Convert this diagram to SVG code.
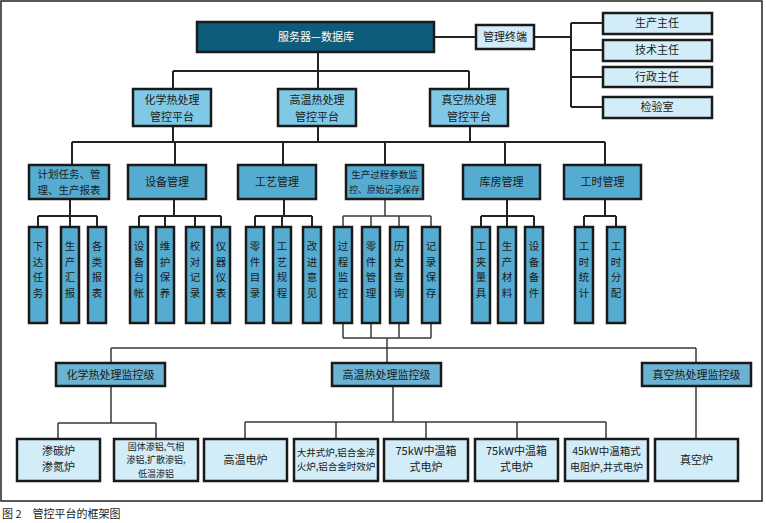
<svg xmlns="http://www.w3.org/2000/svg" width="766" height="523" viewBox="0 0 766 523">
<style>
text{font-family:"Noto Sans CJK SC","Liberation Sans",sans-serif;font-size:11px;fill:#1a1a1a;text-anchor:middle}
.b{stroke:#1a1a1a;stroke-width:2.5}
.srv{fill:#0d5c7a}
.lt{fill:#d2ecf8}
.l2{fill:#80c9e6}
.l3{fill:#56acd0}
.mon{fill:#6cb3d3}
.w{fill:#ffffff}
.v{font-size:10.5px}
.s{font-size:9px}
.c{fill:none;stroke:#222;stroke-width:2}
.g{fill:none;stroke:#3a3a3a;stroke-width:1.5}
</style>
<rect x="1" y="1" width="761" height="500" fill="#fff" stroke="#222" stroke-width="1.5"/>
<g id="connectors">
<path class="c" d="M434 37H476M534 37H571M571 23V107M571 23H603M571 50H603M571 77H603M571 107H603"/>
<path class="c" d="M318 52V71M173 71H469M173 71V89M318 71V89M469 71V89"/>
<path class="c" d="M173 126V142M318 126V142M470 126V142M72 142H605M72 142V165M175 142V165M283 142V165M385 142V165M505 142V165M605 142V165"/>
<path class="c" d="M70 199V216M38 216H97M38 216V227M70 216V227M97 216V227"/>
<path class="c" d="M174 199V216M139 216H221M139 216V227M165 216V227M195 216V227M221 216V227"/>
<path class="c" d="M284 199V216M255 216H312M255 216V227M282 216V227M312 216V227"/>
<path class="g" d="M385 199V216M343 216H431M343 216V227M371 216V227M399 216V227M431 216V227"/>
<path class="c" d="M507 199V216M481 216H534M481 216V227M507 216V227M534 216V227"/>
<path class="c" d="M605 199V216M584 216H616M584 216V227M616 216V227"/>
<path class="g" d="M343 323V338M371 323V338M399 323V338M431 323V338M343 338H431M387 338V363M111 348H696M111 348V363M696 348V363"/>
<path class="g" d="M111 386V423M58 423H156M58 423V439M156 423V439"/>
<path class="g" d="M393 386V422M245 422H606M245 422V439M336 422V439M426 422V439M517 422V439M606 422V439"/>
<path class="g" d="M696 386V439"/>
</g>
<g id="server"><rect class="b srv" x="197" y="22" width="237" height="30"/><text class="w" x="316" y="41">服务器—数据库</text></g>
<g id="terminal"><rect class="b lt" x="476" y="25" width="58" height="24"/><text x="505" y="41">管理终端</text></g>
<g id="r1"><rect class="b lt" x="603" y="13" width="109" height="21"/><text x="657" y="27">生产主任</text></g>
<g id="r2"><rect class="b lt" x="603" y="40" width="109" height="21"/><text x="657" y="54">技术主任</text></g>
<g id="r3"><rect class="b lt" x="603" y="67" width="109" height="20"/><text x="657" y="81">行政主任</text></g>
<g id="r4"><rect class="b lt" x="603" y="97" width="109" height="21"/><text x="657" y="111">检验室</text></g>
<g id="p1"><rect class="b l2" x="133" y="89" width="78" height="37"/><text x="172" y="104">化学热处理</text><text x="172" y="121">管控平台</text></g>
<g id="p2"><rect class="b l2" x="278" y="89" width="78" height="37"/><text x="317" y="104">高温热处理</text><text x="317" y="121">管控平台</text></g>
<g id="p3"><rect class="b l2" x="430" y="89" width="78" height="37"/><text x="469" y="104">真空热处理</text><text x="469" y="121">管控平台</text></g>
<g id="m1"><rect class="b l3" x="29" y="165" width="80" height="34"/><text style="font-size:10.5px" x="69" y="178">计划任务、管</text><text style="font-size:10.5px" x="69" y="194">理、生产报表</text></g>
<g id="m2"><rect class="b l3" x="128" y="165" width="78" height="34"/><text x="167" y="186">设备管理</text></g>
<g id="m3"><rect class="b l3" x="238" y="165" width="78" height="34"/><text x="277" y="186">工艺管理</text></g>
<g id="m4"><rect class="b l3" x="346" y="165" width="77" height="34"/><text style="font-size:9.5px" x="384.5" y="178">生产过程参数监</text><text style="font-size:8.8px" x="384.5" y="193">控、原始记录保存</text></g>
<g id="m5"><rect class="b l3" x="463" y="165" width="77" height="34"/><text x="501.5" y="186">库房管理</text></g>
<g id="m6"><rect class="b l3" x="564" y="165" width="77" height="34"/><text x="602.5" y="186">工时管理</text></g>
<g id="t1"><rect class="b l3" x="29" y="227" width="18" height="96"/><text class="v" x="38" y="250">下<tspan x="38" dy="15.5">达</tspan><tspan x="38" dy="15.5">任</tspan><tspan x="38" dy="15.5">务</tspan></text></g>
<g id="t2"><rect class="b l3" x="61" y="227" width="18" height="96"/><text class="v" x="70" y="250">生<tspan x="70" dy="15.5">产</tspan><tspan x="70" dy="15.5">汇</tspan><tspan x="70" dy="15.5">报</tspan></text></g>
<g id="t3"><rect class="b l3" x="88" y="227" width="18" height="96"/><text class="v" x="97" y="250">各<tspan x="97" dy="15.5">类</tspan><tspan x="97" dy="15.5">报</tspan><tspan x="97" dy="15.5">表</tspan></text></g>
<g id="t4"><rect class="b l3" x="130" y="227" width="18" height="96"/><text class="v" x="139" y="250">设<tspan x="139" dy="15.5">备</tspan><tspan x="139" dy="15.5">台</tspan><tspan x="139" dy="15.5">帐</tspan></text></g>
<g id="t5"><rect class="b l3" x="156" y="227" width="18" height="96"/><text class="v" x="165" y="250">维<tspan x="165" dy="15.5">护</tspan><tspan x="165" dy="15.5">保</tspan><tspan x="165" dy="15.5">养</tspan></text></g>
<g id="t6"><rect class="b l3" x="186" y="227" width="18" height="96"/><text class="v" x="195" y="250">校<tspan x="195" dy="15.5">对</tspan><tspan x="195" dy="15.5">记</tspan><tspan x="195" dy="15.5">录</tspan></text></g>
<g id="t7"><rect class="b l3" x="212" y="227" width="18" height="96"/><text class="v" x="221" y="250">仪<tspan x="221" dy="15.5">器</tspan><tspan x="221" dy="15.5">仪</tspan><tspan x="221" dy="15.5">表</tspan></text></g>
<g id="t8"><rect class="b l3" x="246" y="227" width="18" height="96"/><text class="v" x="255" y="250">零<tspan x="255" dy="15.5">件</tspan><tspan x="255" dy="15.5">目</tspan><tspan x="255" dy="15.5">录</tspan></text></g>
<g id="t9"><rect class="b l3" x="273" y="227" width="18" height="96"/><text class="v" x="282" y="250">工<tspan x="282" dy="15.5">艺</tspan><tspan x="282" dy="15.5">规</tspan><tspan x="282" dy="15.5">程</tspan></text></g>
<g id="t10"><rect class="b l3" x="303" y="227" width="18" height="96"/><text class="v" x="312" y="250">改<tspan x="312" dy="15.5">进</tspan><tspan x="312" dy="15.5">意</tspan><tspan x="312" dy="15.5">见</tspan></text></g>
<g id="t11"><rect class="b l3" x="334" y="227" width="18" height="96"/><text class="v" x="343" y="250">过<tspan x="343" dy="15.5">程</tspan><tspan x="343" dy="15.5">监</tspan><tspan x="343" dy="15.5">控</tspan></text></g>
<g id="t12"><rect class="b l3" x="362" y="227" width="18" height="96"/><text class="v" x="371" y="250">零<tspan x="371" dy="15.5">件</tspan><tspan x="371" dy="15.5">管</tspan><tspan x="371" dy="15.5">理</tspan></text></g>
<g id="t13"><rect class="b l3" x="390" y="227" width="18" height="96"/><text class="v" x="399" y="250">历<tspan x="399" dy="15.5">史</tspan><tspan x="399" dy="15.5">查</tspan><tspan x="399" dy="15.5">询</tspan></text></g>
<g id="t14"><rect class="b l3" x="422" y="227" width="18" height="96"/><text class="v" x="431" y="250">记<tspan x="431" dy="15.5">录</tspan><tspan x="431" dy="15.5">保</tspan><tspan x="431" dy="15.5">存</tspan></text></g>
<g id="t15"><rect class="b l3" x="472" y="227" width="18" height="96"/><text class="v" x="481" y="250">工<tspan x="481" dy="15.5">夹</tspan><tspan x="481" dy="15.5">量</tspan><tspan x="481" dy="15.5">具</tspan></text></g>
<g id="t16"><rect class="b l3" x="498" y="227" width="18" height="96"/><text class="v" x="507" y="250">生<tspan x="507" dy="15.5">产</tspan><tspan x="507" dy="15.5">材</tspan><tspan x="507" dy="15.5">料</tspan></text></g>
<g id="t17"><rect class="b l3" x="525" y="227" width="18" height="96"/><text class="v" x="534" y="250">设<tspan x="534" dy="15.5">备</tspan><tspan x="534" dy="15.5">备</tspan><tspan x="534" dy="15.5">件</tspan></text></g>
<g id="t18"><rect class="b l3" x="575" y="227" width="18" height="96"/><text class="v" x="584" y="250">工<tspan x="584" dy="15.5">时</tspan><tspan x="584" dy="15.5">统</tspan><tspan x="584" dy="15.5">计</tspan></text></g>
<g id="t19"><rect class="b l3" x="607" y="227" width="18" height="96"/><text class="v" x="616" y="250">工<tspan x="616" dy="15.5">时</tspan><tspan x="616" dy="15.5">分</tspan><tspan x="616" dy="15.5">配</tspan></text></g>
<g id="s1"><rect class="b mon" x="56" y="363" width="109" height="23"/><text x="110.5" y="378.5">化学热处理监控级</text></g>
<g id="s2"><rect class="b mon" x="332" y="363" width="109" height="23"/><text x="386.5" y="378.5">高温热处理监控级</text></g>
<g id="s3"><rect class="b mon" x="642" y="363" width="109" height="23"/><text x="696.5" y="378.5">真空热处理监控级</text></g>
<g id="f1"><rect class="b lt" x="17" y="439" width="83" height="42"/><text x="58.5" y="455">渗碳炉</text><text x="58.5" y="471">渗氮炉</text></g>
<g id="f2"><rect class="b lt" x="114" y="439" width="84" height="42"/><text class="s" x="156" y="450">固体渗铝,气相</text><text class="s" x="156" y="463.3">渗铝,扩散渗铝,</text><text class="s" x="156" y="476.6">低温渗铝</text></g>
<g id="f3"><rect class="b lt" x="204" y="439" width="83" height="42"/><text x="245.5" y="464">高温电炉</text></g>
<g id="f4"><rect class="b lt" x="294" y="439" width="84" height="42"/><text style="font-size:9.5px" x="336" y="456">大井式炉,铝合金淬</text><text style="font-size:9.5px" x="336" y="470">火炉,铝合金时效炉</text></g>
<g id="f5"><rect class="b lt" x="384" y="439" width="84" height="42"/><text x="426" y="455">75kW中温箱</text><text x="426" y="471">式电炉</text></g>
<g id="f6"><rect class="b lt" x="475" y="439" width="83" height="42"/><text x="516.5" y="455">75kW中温箱</text><text x="516.5" y="471">式电炉</text></g>
<g id="f7"><rect class="b lt" x="565" y="439" width="83" height="42"/><text style="font-size:10.5px" x="606.5" y="455">45kW中温箱式</text><text style="font-size:10px" x="606.5" y="471">电阻炉,井式电炉</text></g>
<g id="f8"><rect class="b lt" x="655" y="439" width="83" height="42"/><text x="696.5" y="464">真空炉</text></g>
<text x="2" y="518" style="text-anchor:start;font-size:11px">图 2　管控平台的框架图</text>
</svg>
